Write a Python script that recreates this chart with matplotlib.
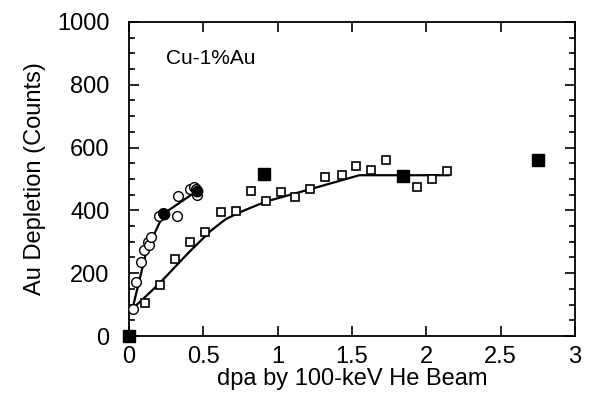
import matplotlib.pyplot as plt
from matplotlib.ticker import MultipleLocator

plt.rcParams['font.family'] = ['Liberation Sans', 'DejaVu Sans']

# open squares
sq_x = [0.11, 0.21, 0.31, 0.41, 0.51, 0.62, 0.72, 0.82, 0.92, 1.02, 1.12, 1.22,
        1.32, 1.43, 1.53, 1.63, 1.73, 1.94, 2.04, 2.14]
sq_y = [104, 164, 245, 298, 331, 395, 399, 463, 430, 458, 442, 468,
        507, 513, 540, 529, 561, 474, 500, 524]
# filled squares
fsq_x = [0.0, 0.91, 1.84, 2.75]
fsq_y = [0, 516, 510, 560]
# open circles
ci_x = [0.025, 0.05, 0.08, 0.10, 0.125, 0.135, 0.15, 0.20, 0.23, 0.32, 0.33,
        0.41, 0.44, 0.46, 0.45]
ci_y = [85, 171, 237, 273, 298, 290, 315, 381, 392, 383, 445, 469, 474, 450, 468]
# filled circles
fci_x = [0.235, 0.455]
fci_y = [390, 463]
# fitted curves
fit_c_x = [0.02, 0.12, 0.235, 0.46]
fit_c_y = [80, 275, 390, 463]
fit_s_x = [0.02, 0.2, 0.4, 0.55, 0.65, 0.75, 0.92, 1.2, 1.55, 2.15]
fit_s_y = [85, 165, 265, 335, 372, 395, 428, 465, 512, 512]

fig = plt.figure(figsize=(5.9, 3.96), dpi=100)
ax = fig.add_axes([0.2186, 0.1515, 0.756, 0.793])

ax.plot(fit_s_x, fit_s_y, color='black', lw=1.6, zorder=2)
ax.plot(fit_c_x, fit_c_y, color='black', lw=1.6, zorder=2)
ax.plot(sq_x, sq_y, 's', ms=6.2, mfc='white', mec='black', mew=1.2, zorder=3)
ax.plot(ci_x, ci_y, 'o', ms=7, mfc='white', mec='black', mew=1.0, zorder=3)
ax.plot(fci_x, fci_y, 'o', ms=7.5, color='black', zorder=4)
ax.plot(fsq_x, fsq_y, 's', ms=9, color='black', zorder=4, clip_on=False)

ax.set_xlim(0, 3)
ax.set_ylim(0, 1000)
ax.xaxis.set_major_locator(MultipleLocator(0.5))
ax.yaxis.set_major_locator(MultipleLocator(200))
ax.yaxis.set_minor_locator(MultipleLocator(50))
ax.set_xticks([0, 0.5, 1, 1.5, 2, 2.5, 3], ['0', '0.5', '1', '1.5', '2', '2.5', '3'])
ax.tick_params(which='both', direction='in', top=True, right=True, labelsize=17, width=1.2)
ax.tick_params(which='major', length=7)
ax.tick_params(axis='y', which='major', pad=14)
ax.tick_params(axis='x', which='major', pad=7)
ax.tick_params(which='minor', length=4)
for s in ax.spines.values():
    s.set_linewidth(1.3)

ax.set_xlabel('dpa by 100-keV He Beam', fontsize=17, labelpad=0)
ax.set_ylabel('Au Depletion (Counts)', fontsize=17, labelpad=8)
ax.text(0.25, 865, 'Cu-1%Au', fontsize=15)

fig.savefig('out.png', dpi=100)
